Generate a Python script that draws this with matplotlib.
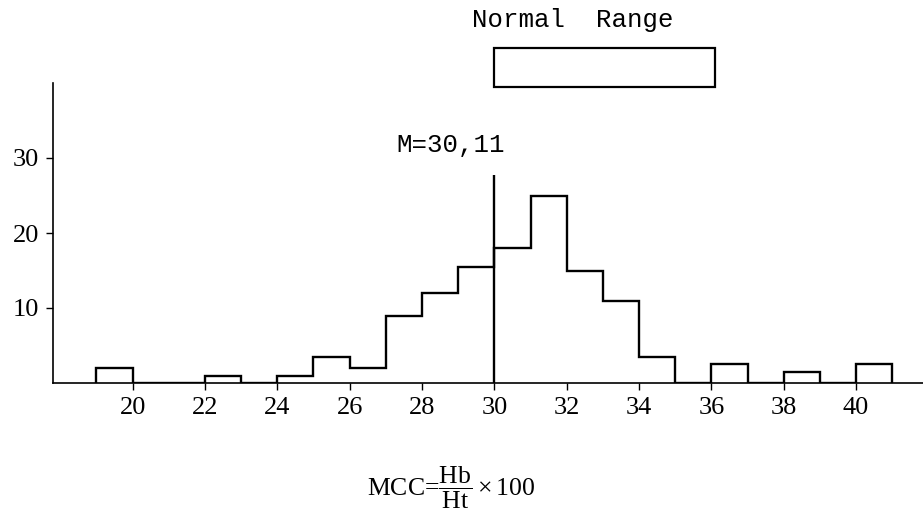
import matplotlib
matplotlib.use("Agg")
import matplotlib.pyplot as plt
from matplotlib.patches import Rectangle
import matplotlib.transforms as mtransforms

# Data
bin_edges = list(range(19, 42))
counts = [2, 0, 0, 1, 0, 1, 3.5, 2, 9, 12, 15.5, 18, 25, 15, 11, 3.5, 0, 2.5, 0, 1.5, 0, 2.5]
mean_line_x = 30.0
mean_line_height = 27.8
mean_label = "M=30,11"
normal_range = (30.0, 36.1)
normal_label = "Normal  Range"
x_ticks = [20, 22, 24, 26, 28, 30, 32, 34, 36, 38, 40]
y_ticks = [10, 20, 30]

plt.rcParams['mathtext.fontset'] = 'custom'
plt.rcParams['mathtext.rm'] = 'Liberation Serif'
plt.rcParams['mathtext.it'] = 'Liberation Serif:italic'

fig = plt.figure(figsize=(9.23, 5.17), dpi=100)
ax = fig.add_axes([53/923, 134/517, 870/923, 300/517])

ax.stairs(counts, bin_edges, baseline=0, fill=False, color='black', linewidth=1.7)
ax.vlines(mean_line_x, 0, mean_line_height, color='black', linewidth=1.7)

ax.set_xlim(17.8, 41.85)
ax.set_ylim(0, 40)

for s in ['top', 'right']:
    ax.spines[s].set_visible(False)
for s in ['left', 'bottom']:
    ax.spines[s].set_linewidth(1.2)

ax.set_xticks(x_ticks)
ax.set_yticks(y_ticks)
ax.tick_params(axis='both', direction='out', length=5, width=1.0, labelsize=19, pad=5)
for lab in ax.get_xticklabels() + ax.get_yticklabels():
    lab.set_fontfamily('Liberation Serif')

ax.text(28.8, 31.7, mean_label, ha='center', va='center', fontsize=18.5,
        family='Liberation Mono')

trans = mtransforms.blended_transform_factory(ax.transData, fig.transFigure)
box = Rectangle((normal_range[0], 0.832), normal_range[1] - normal_range[0], 0.075,
                transform=trans, fill=False, edgecolor='black', linewidth=1.6,
                clip_on=False)
fig.patches.append(box)
fig.text(573/923, (517-20)/517, normal_label, ha='center', va='center', fontsize=18.5,
         family='Liberation Mono')

fig.text(451/923, (517-488)/517, r'MCC=$\dfrac{\mathrm{Hb}}{\mathrm{Ht}}\times 100$',
         ha='center', va='center', fontsize=18.5, family='Liberation Serif')

fig.savefig('out.png', dpi=100)
